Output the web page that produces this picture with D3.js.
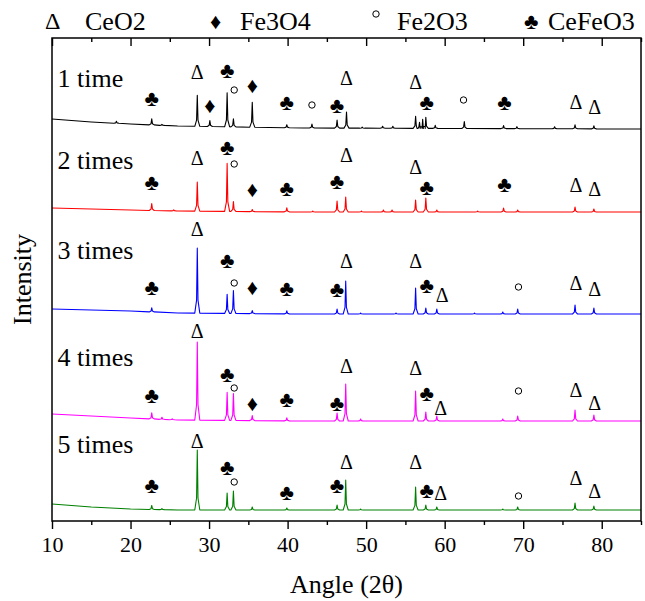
<!DOCTYPE html>
<html>
<head>
<meta charset="utf-8">
<script src="https://cdn.jsdelivr.net/npm/d3@7"></script>
<style>
  body { margin: 0; background: #fff; }
</style>
</head>
<body>
<svg width="645" height="601"></svg>
<script>
var width = 645, height = 601;
var serif = "Liberation Serif";

// axis ticks
var angleTicks = [10, 20, 30, 40, 50, 60, 70, 80];
var minorTicks = [15, 25, 35, 45, 55, 65, 75, 85];

// legend
var legendNames = ["CeO2", "Fe3O4", "Fe2O3", "CeFeO3"];
var legendSymbols = ["Δ", "♦", "o", "♣"];

var runLabels = ["1 time", "2 times", "3 times", "4 times", "5 times"];
var runColors = ["#000000", "#ff0000", "#0000ff", "#ff00ff", "#008000"];
var labelLevels = [443, 361, 271, 164, 77];

// baselines [angle, intensity] and peaks [angle, height] per run
var base1 = [[10, 402], [15, 399], [20, 397], [26, 395], [42, 393], [85, 392]];
var peaks1 = [[18.2, 2], [22.7, 6], [24.0, 1], [28.5, 31], [30.1, 6], [32.3, 34], [33.1, 8], [35.5, 25],
  [39.9, 3], [43.1, 4], [46.3, 8], [47.5, 16], [49.5, 1], [52.1, 2], [53.4, 2], [56.3, 12], [56.8, 6],
  [57.2, 9], [57.6, 11], [58.8, 3], [62.5, 7], [67.5, 3], [69.2, 2], [74.0, 2], [76.6, 4], [79.0, 3]];

var base2 = [[10, 313], [15, 312], [20, 311], [26, 310], [42, 309], [85, 309]];
var peaks2 = [[22.7, 7], [25.5, 1], [28.5, 29], [32.3, 48], [33.1, 10], [35.5, 2], [39.9, 4], [43.2, 1],
  [46.3, 11], [47.4, 15], [49.4, 1], [52.2, 2], [53.3, 2], [56.3, 12], [57.6, 14], [59.0, 2], [64.2, 1],
  [67.5, 4], [69.3, 2], [76.6, 5], [79.0, 3]];

var base3 = [[10, 212], [15, 211], [20, 210], [26, 208], [42, 207], [85, 207]];
var peaks3 = [[22.7, 4], [28.5, 65], [32.3, 19], [33.1, 23], [35.5, 3], [39.9, 3], [46.3, 5], [47.4, 33],
  [49.3, 1], [53.8, 1], [56.3, 26], [57.6, 6], [59.0, 5], [63.8, 1], [67.4, 2], [69.3, 5], [76.6, 9], [79.0, 6]];

var base4 = [[10, 107], [15, 105], [20, 103], [26, 101], [42, 100], [85, 100]];
var peaks4 = [[22.7, 6], [24.0, 2], [25.3, 1], [28.5, 78], [32.3, 28], [33.1, 27], [35.5, 5], [39.9, 3],
  [46.3, 8], [47.4, 37], [49.3, 2], [56.3, 30], [57.6, 9], [59.0, 5], [67.4, 2], [69.3, 5], [76.6, 11], [79.0, 6]];

var base5 = [[10, 17], [15, 14], [20, 12], [26, 11], [42, 11], [85, 11]];
var peaks5 = [[22.7, 4], [24.0, 1], [28.5, 60], [32.3, 17], [33.1, 19], [35.5, 3], [39.9, 2], [46.3, 5],
  [47.4, 30], [49.3, 1], [56.3, 23], [57.6, 5], [59.0, 3], [67.4, 1], [69.3, 3], [76.6, 7], [79.0, 4]];

// phase marks [symbol, angle, level]
var marks1 = [["♣", 22.7, 423], ["Δ", 28.5, 449], ["♣", 32.3, 451], ["o", 33.2, 431], ["♦", 30.1, 416],
  ["♦", 35.5, 436], ["♣", 39.9, 419], ["o", 43.1, 416], ["♣", 46.3, 416], ["Δ", 47.5, 443],
  ["Δ", 56.3, 439], ["♣", 57.7, 419], ["o", 62.4, 421], ["♣", 67.6, 419], ["Δ", 76.7, 419], ["Δ", 79.1, 414]];
var marks2 = [["♣", 22.7, 339], ["Δ", 28.5, 363], ["♣", 32.3, 374], ["o", 33.2, 357], ["♦", 35.5, 332],
  ["♣", 39.9, 333], ["♣", 46.3, 340], ["Δ", 47.5, 366], ["Δ", 56.3, 354], ["♣", 57.7, 334],
  ["♣", 67.6, 337], ["Δ", 76.7, 336], ["Δ", 79.1, 332]];
var marks3 = [["♣", 22.7, 234], ["Δ", 28.5, 292], ["♣", 32.3, 261], ["o", 33.2, 238], ["♦", 35.5, 234],
  ["♣", 39.9, 233], ["♣", 46.3, 232], ["Δ", 47.5, 260], ["Δ", 56.3, 260], ["♣", 57.7, 236],
  ["Δ", 59.7, 226], ["o", 69.4, 234], ["Δ", 76.7, 238], ["Δ", 79.1, 232]];
var marks4 = [["♣", 22.7, 126], ["Δ", 28.5, 190], ["♣", 32.3, 147], ["o", 33.2, 133], ["♦", 35.5, 118],
  ["♣", 39.9, 122], ["♣", 46.3, 118], ["Δ", 47.5, 155], ["Δ", 56.3, 153], ["♣", 57.7, 128],
  ["Δ", 59.5, 113], ["o", 69.4, 130], ["Δ", 76.7, 131], ["Δ", 79.1, 118]];
var marks5 = [["♣", 22.7, 36], ["Δ", 28.5, 80], ["♣", 32.3, 54], ["o", 33.2, 39], ["♣", 39.9, 29],
  ["♣", 46.3, 36], ["Δ", 47.5, 59], ["Δ", 56.3, 59], ["♣", 57.7, 31], ["Δ", 59.5, 28],
  ["o", 69.4, 25], ["Δ", 76.7, 43], ["Δ", 79.1, 30]];

var runBases = [base1, base2, base3, base4, base5];
var runPeaks = [peaks1, peaks2, peaks3, peaks4, peaks5];
var runMarks = [marks1, marks2, marks3, marks4, marks5];

var margin = {left: 52, right: 4, top: 38, bottom: 80};

var x = d3.scaleLinear()
    .domain([10, 85])
    .range([margin.left, width - margin.right]);

var y = d3.scaleLinear()
    .domain([0, 483])
    .range([height - margin.bottom, margin.top]);

var svg = d3.select("svg");

// serif text helper
function addText(parent, size) {
  return parent.append("text")
    .attr("font-family", serif)
    .attr("font-size", size)
    .style("font-family", serif)
    .style("font-size", size + "px")
    .attr("fill", "#000");
}

// turn a baseline and a peak list into a polyline
function tracePoints(base, peaks) {
  var baseAt = d3.scaleLinear()
      .domain(base.map(d => d[0]))
      .range(base.map(d => d[1]));
  var pts = base.map(d => [d[0], d[1]]);
  peaks.forEach(function(p) {
    var b = baseAt(p[0]);
    pts.push([p[0] - 0.32, b], [p[0] - 0.09, b + p[1] * 0.2], [p[0], b + p[1]],
             [p[0] + 0.09, b + p[1] * 0.2], [p[0] + 0.32, b]);
  });
  pts.sort((a, b) => a[0] - b[0]);
  return pts;
}

var line = d3.line()
    .x(d => x(d[0]))
    .y(d => y(d[1]));

runBases.forEach(function(base, i) {
  svg.append("path")
    .datum(tracePoints(base, runPeaks[i]))
    .attr("fill", "none")
    .attr("stroke", runColors[i])
    .attr("stroke-width", 1.1)
    .attr("stroke-linejoin", "round")
    .attr("d", line);

  addText(svg, 26)
    .attr("x", x(10.7))
    .attr("y", y(labelLevels[i]))
    .attr("dominant-baseline", "central")
    .text(runLabels[i]);

  var g = svg.append("g");
  runMarks[i].forEach(function(m) {
    if (m[0] === "o") {
      g.append("circle")
        .attr("cx", x(m[1]))
        .attr("cy", y(m[2]))
        .attr("r", 3.2)
        .attr("fill", "none")
        .attr("stroke", "#000")
        .attr("stroke-width", 1);
    } else {
      addText(g, m[0] === "Δ" ? 20 : 22)
        .attr("x", x(m[1]))
        .attr("y", y(m[2]))
        .attr("text-anchor", "middle")
        .attr("dominant-baseline", "central")
        .text(m[0]);
    }
  });
});

// frame
svg.append("rect")
  .attr("x", x(10))
  .attr("y", y(483))
  .attr("width", x(85) - x(10))
  .attr("height", y(0) - y(483))
  .attr("fill", "none")
  .attr("stroke", "#000")
  .attr("stroke-width", 1.5);

// bottom axis
svg.append("g")
  .attr("transform", `translate(0,${y(0)})`)
  .call(d3.axisBottom(x).tickValues(minorTicks).tickSize(4).tickFormat(""))
  .call(g => g.select(".domain").remove());

svg.append("g")
  .attr("transform", `translate(0,${y(0)})`)
  .attr("font-family", serif)
  .call(d3.axisBottom(x).tickValues(angleTicks).tickSize(8).tickPadding(7))
  .call(g => g.attr("font-family", serif).attr("font-size", 22))
  .call(g => g.select(".domain").remove())
  .call(g => g.selectAll("text")
    .attr("fill", "#000")
    .style("font-family", serif)
    .style("font-size", "22px"));

// top axis, ticks pointing inward
svg.append("g")
  .attr("transform", `translate(0,${y(483)})`)
  .call(d3.axisBottom(x).tickValues(minorTicks).tickSize(4).tickFormat(""))
  .call(g => g.select(".domain").remove());

svg.append("g")
  .attr("transform", `translate(0,${y(483)})`)
  .call(d3.axisBottom(x).tickValues(angleTicks).tickSize(8).tickFormat(""))
  .call(g => g.select(".domain").remove());

svg.selectAll(".tick line").attr("stroke-width", 1.4);

// axis titles
addText(svg, 26)
  .attr("x", (x(10) + x(85)) / 2)
  .attr("y", 584)
  .attr("text-anchor", "middle")
  .attr("dominant-baseline", "central")
  .text("Angle (2θ)");

addText(svg, 26)
  .attr("transform", `translate(22,${(y(0) + y(483)) / 2}) rotate(-90)`)
  .attr("text-anchor", "middle")
  .attr("dominant-baseline", "central")
  .text("Intensity");

// legend across the top
var legendX = [45, 210, 372, 524];
var legendTextX = [85, 240, 397, 548];
legendNames.forEach(function(name, i) {
  var lx = legendX[i];
  if (legendSymbols[i] === "o") {
    svg.append("circle")
      .attr("cx", lx + 4)
      .attr("cy", 14)
      .attr("r", 3.2)
      .attr("fill", "none")
      .attr("stroke", "#000");
  } else {
    addText(svg, legendSymbols[i] === "Δ" ? 24 : 22)
      .attr("x", lx)
      .attr("y", 21)
      .attr("dominant-baseline", "central")
      .text(legendSymbols[i]);
  }
  addText(svg, 26)
    .attr("x", legendTextX[i])
    .attr("y", 21)
    .attr("dominant-baseline", "central")
    .text(name);
});
</script>
</body>
</html>
